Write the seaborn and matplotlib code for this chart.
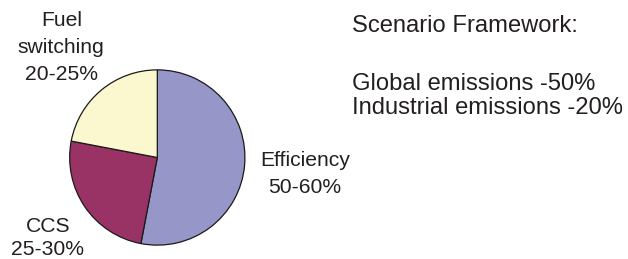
import matplotlib
matplotlib.use("Agg")
import matplotlib.pyplot as plt
import seaborn as sns

categories = ["Efficiency", "CCS", "Fuel switching"]
shares = [53, 25, 22]
range_labels = ["50-60%", "25-30%", "20-25%"]
colors = ["#9696C8", "#993366", "#FBF8D0"]
framework_title = "Scenario Framework:"
framework_lines = ["Global emissions -50%", "Industrial emissions -20%"]

sns.set_theme(style="white")
plt.rcParams['font.family'] = ['Liberation Sans', 'DejaVu Sans']

W, H = 628, 259
fig = plt.figure(figsize=(W / 100, H / 100), dpi=100)
fig.patch.set_facecolor("white")

cx, cy, r = 157.3, 157.5, 88.5
ax = fig.add_axes([(cx - r) / W, 1 - (cy + r) / H, 2 * r / W, 2 * r / H])
pal = sns.color_palette(colors)
ax.pie(shares, colors=pal, startangle=90, counterclock=False, radius=1,
       wedgeprops=dict(edgecolor="#1a1a1a", linewidth=0.9))
ax.set_xlim(-1.01, 1.01)
ax.set_ylim(-1.01, 1.01)
ax.set_aspect("auto")
ax.axis("off")

tc = "#231f20"
fs_lab = 15.2
def ptext(x, y, s, fs=fs_lab, ha="center"):
    fig.text(x / W, 1 - y / H, s, ha=ha, va="baseline", fontsize=fs, color=tc)

# Fuel switching
ptext(62, 26, "Fuel")
ptext(61, 53, "switching")
ptext(61, 80, range_labels[2])
# Efficiency
ptext(305, 166, categories[0])
ptext(305, 193, range_labels[0])
# CCS
ptext(48, 232, categories[1])
ptext(48, 255, range_labels[1])

# Framework text
fs_fw = 17.1
ptext(352, 32, framework_title, fs=fs_fw, ha="left")
ptext(352, 89.5, framework_lines[0], fs=fs_fw, ha="left")
ptext(352, 113.5, framework_lines[1], fs=fs_fw, ha="left")

fig.savefig("out.png", dpi=100, facecolor="white")
